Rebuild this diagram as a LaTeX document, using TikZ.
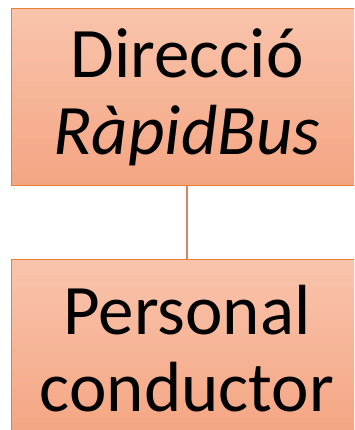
\documentclass[tikz,border=0pt]{standalone}
\usepackage{fontspec}
\setmainfont{Carlito}
\usetikzlibrary{shapes,positioning}
\definecolor{boxtop}{RGB}{249,196,172}
\definecolor{boxbottom}{RGB}{244,165,130}
\definecolor{boxedge}{RGB}{237,125,49}
\definecolor{linkcol}{RGB}{214,132,92}
\tikzstyle{orgbox} = [rectangle, draw=boxedge, line width=1pt, top color=boxtop, bottom color=boxbottom,
    minimum width=352pt, minimum height=177pt, text width=340pt, align=center,
    font=\fontsize{71}{77}\selectfont, inner sep=0pt]
\tikzstyle{line} = [draw=linkcol, line width=1.8pt]

\begin{document}
\begin{tikzpicture}[x=1pt, y=1pt, node distance = 251pt]
    \useasboundingbox (0,0) rectangle (354,430);
    \clip (0,0) rectangle (354,430);
    % Place nodes
    \node [orgbox] (dir) at (187,332.5) {Direcció\\\textit{RàpidBus}};
    \node [orgbox, below of=dir] (cond) {Personal\\conductor};
    % Draw edges
    \path [line] (dir) -- (cond);
\end{tikzpicture}
\end{document}
